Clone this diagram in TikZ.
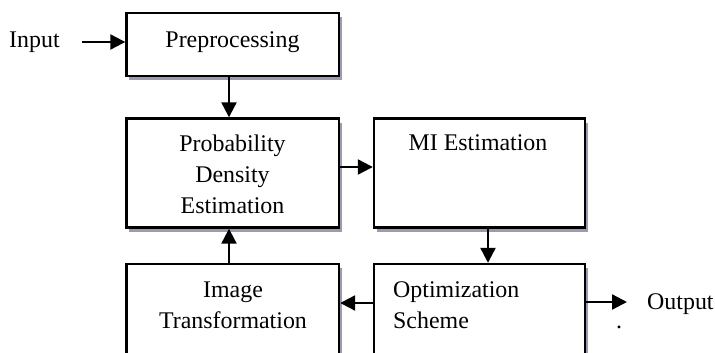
\documentclass[tikz,border=0pt]{standalone}
\usepackage{fontspec}
\setmainfont{Liberation Serif}
\usetikzlibrary{arrows.meta,shadows}
\definecolor{shgray}{HTML}{A098B0}
\tikzset{
  box/.style={draw, line width=2.4pt, fill=white, inner sep=0pt,
    drop shadow={shadow xshift=2.8pt, shadow yshift=-4pt, fill=shgray, opacity=1}},
  lbl/.style={font=\fontsize{23.9}{31}\selectfont, inner sep=0pt, anchor=base},
  lblw/.style={lbl, anchor=base west},
  arr/.style={line width=2.3pt, -{Triangle[length=15pt 0 0,width=15pt 0 0]}},
}
\begin{document}
\begin{tikzpicture}[x=1pt,y=-1pt]
\useasboundingbox (0,0) rectangle (715,353);
\clip (0,0) rectangle (715,353);
% boxes
\node[box, minimum width=212.5pt, minimum height=63pt]  (pre) at (232.75,44.5) {};
\node[box, minimum width=212.5pt, minimum height=109pt] (pde) at (232.75,173) {};
\node[box, minimum width=211pt,   minimum height=109pt] (mi)  at (479.5,173) {};
\node[box, minimum width=211pt,   minimum height=140pt] (opt) at (479.5,334) {};
\node[box, minimum width=212.5pt, minimum height=140pt] (it)  at (232.75,334) {};
% texts
\node[lblw] (tin)  at (9,48) {Input};
\node[lbl]  (tpre) at (232.5,48) {Preprocessing};
\node[lbl]  (tpd1) at (232.5,151) {Probability};
\node[lbl]  (tpd2) at (232.5,182) {Density};
\node[lbl]  (tpd3) at (232.5,213) {Estimation};
\node[lbl]  (tmi)  at (478,150) {MI Estimation};
\node[lblw] (top1) at (393,297) {Optimization};
\node[lblw] (top2) at (393,328) {Scheme};
\node[lbl]  (tit1) at (233,297) {Image};
\node[lbl]  (tit2) at (233,328) {Transformation};
\node[lblw] (tout) at (647,309) {Output};
\node[lbl]  (tdot) at (619,328) {.};
% helper coordinates
\coordinate (inS) at (82,42);
\coordinate (xl) at (229,0);
\coordinate (xr) at (488,0);
\coordinate (ym) at (0,167);
\coordinate (yb) at (0,303);
\coordinate (outE) at (627,302);
% connectors
\draw[arr] (inS) -- (inS -| pre.west);
\draw[arr] (pre.south -| xl) -- (pde.north -| xl);
\draw[arr] (pde.east |- ym) -- (mi.west |- ym);
\draw[arr] (mi.south -| xr) -- (opt.north -| xr);
\draw[arr] (opt.west |- yb) -- (it.east |- yb);
\draw[arr] (it.north -| xl) -- (pde.south -| xl);
\draw[arr] (opt.east |- outE) -- (outE);
\end{tikzpicture}
\end{document}
